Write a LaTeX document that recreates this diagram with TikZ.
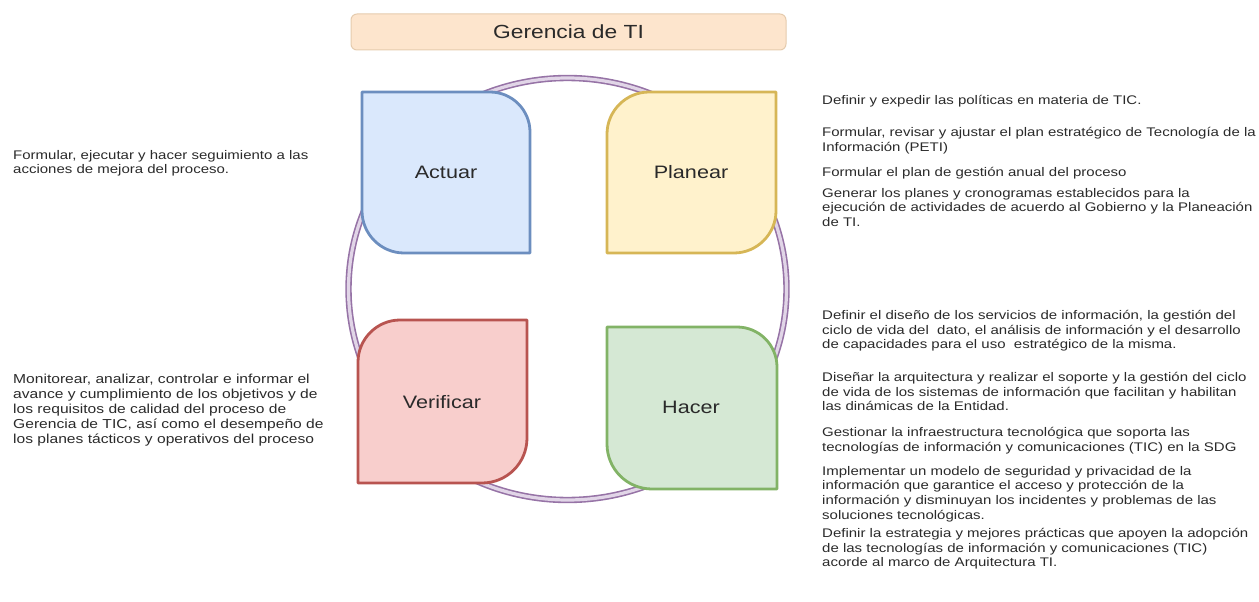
\documentclass[tikz,border=0pt]{standalone}
\usepackage{fontspec}
\setmainfont{Liberation Sans}[FakeStretch=1.2]
\definecolor{actfill}{HTML}{DAE8FC}
\definecolor{actdraw}{HTML}{6C8EBF}
\definecolor{planfill}{HTML}{FFF2CC}
\definecolor{plandraw}{HTML}{D6B656}
\definecolor{verfill}{HTML}{F8CECC}
\definecolor{verdraw}{HTML}{B85450}
\definecolor{hacfill}{HTML}{D5E8D4}
\definecolor{hacdraw}{HTML}{82B366}
\definecolor{ringout}{HTML}{9673A6}
\definecolor{ringin}{HTML}{E1D5E7}
\definecolor{titfill}{HTML}{FDE5CD}
\definecolor{titdraw}{HTML}{E5CBAE}
\definecolor{txt}{HTML}{2A2A2A}
\newcommand\dsz{\fontsize{12.5}{14.6}\selectfont}
\newcommand\dszb{\fontsize{13}{15}\selectfont}
\newcommand\lsz{\fontsize{18}{21}\selectfont}
\tikzset{
  desc/.style={anchor=north west, inner sep=0pt, align=left, font=\dsz, text=txt},
  descb/.style={desc, font=\dszb},
  lbl/.style={inner sep=0pt, font=\lsz, text=txt},
  petal/.style={line width=2.8pt, line join=round},
  ring/.style={draw=ringout, line width=1.6pt, double=ringin, double distance=3.2pt}
}
\begin{document}
\begin{tikzpicture}[x=1pt,y=-1pt]
\useasboundingbox (0,0) rectangle (1259,602);
% title
\node[draw=titdraw, fill=titfill, line width=1pt, rounded corners=6pt,
      minimum width=435pt, minimum height=36pt, font=\fontsize{19}{22}\selectfont, text=txt]
      (title) at (568.5,32) {Gerencia de TI};
% ring
\draw[ring] (567.5,289) ellipse [x radius=219, y radius=211];
% Actuar
\draw[petal, draw=actdraw, fill=actfill]
  (362,92) -- (490,92) .. controls (512,92) and (530,110) .. (530,132)
  -- (530,253) -- (404,253) .. controls (381,253) and (362,234) .. (362,211) -- cycle;
% Planear
\draw[petal, draw=plandraw, fill=planfill]
  (649,92) -- (776,92) -- (776,211) .. controls (776,234) and (757,253) .. (734,253)
  -- (607,253) -- (607,134) .. controls (607,111) and (626,92) .. (649,92) -- cycle;
% Verificar
\draw[petal, draw=verdraw, fill=verfill]
  (400,320) -- (527,320) -- (527,438) .. controls (527,463) and (507,483) .. (482,483)
  -- (358,483) -- (358,362) .. controls (358,339) and (377,320) .. (400,320) -- cycle;
% Hacer
\draw[petal, draw=hacdraw, fill=hacfill]
  (607,327) -- (737,327) .. controls (759,327) and (777,345) .. (777,367)
  -- (777,489) -- (652,489) .. controls (627,489) and (607,469) .. (607,444) -- cycle;
% labels
\node[lbl] (actuar) at (446,172) {Actuar};
\node[lbl] (planear) at (691,172) {Planear};
\node[lbl] (verificar) at (442,402) {Verificar};
\node[lbl] (hacer) at (691,407) {Hacer};
% left texts
\node[desc] (l1) at (13,150) {Formular, ejecutar y hacer seguimiento a las\\acciones de mejora del proceso.};
\node[descb] (l2) at (13,374) {Monitorear, analizar, controlar e informar el\\avance y cumplimiento de los objetivos y de\\los requisitos de calidad del proceso de\\Gerencia de TIC, así como el desempeño de\\los planes tácticos y operativos del proceso};
% right texts (Planear)
\node[desc] (r1) at (822,95) {Definir y expedir las políticas en materia de TIC.};
\node[desc] (r2) at (822,127) {Formular, revisar y ajustar el plan estratégico de Tecnología de la\\Información (PETI)};
\node[desc] (r3) at (822,167) {Formular el plan de gestión anual del proceso};
\node[desc] (r4) at (822,188) {Generar los planes y cronogramas establecidos para la\\ejecución de actividades de acuerdo al Gobierno y la Planeación\\de TI.};
% right texts (Hacer)
\node[desc] (r5) at (822,310) {Definir el diseño de los servicios de información, la gestión del\\ciclo de vida del\ \ dato, el análisis de información y el desarrollo\\de capacidades para el uso\ \ estratégico de la misma.};
\node[desc] (r6) at (822,372) {Diseñar la arquitectura y realizar el soporte y la gestión del ciclo\\de vida de los sistemas de información que facilitan y habilitan\\las dinámicas de la Entidad.};
\node[desc] (r7) at (822,427) {Gestionar la infraestructura tecnológica que soporta las\\tecnologías de información y comunicaciones (TIC) en la SDG};
\node[desc] (r8) at (822,466) {Implementar un modelo de seguridad y privacidad de la\\información que garantice el acceso y protección de la\\información y disminuyan los incidentes y problemas de las\\soluciones tecnológicas.};
\node[desc] (r9) at (822,528) {Definir la estrategia y mejores prácticas que apoyen la adopción\\de las tecnologías de información y comunicaciones (TIC)\\acorde al marco de Arquitectura TI.};
\end{tikzpicture}
\end{document}
